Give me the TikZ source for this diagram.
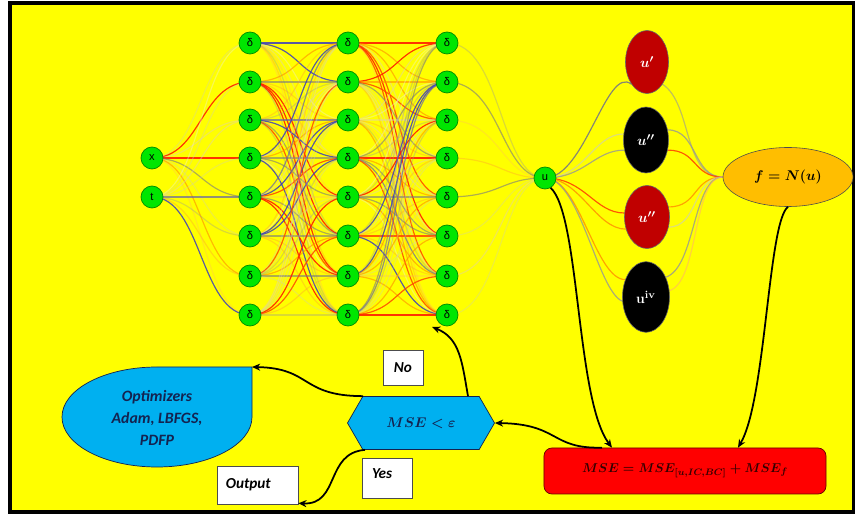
\documentclass[tikz,border=0pt]{standalone}
\usepackage{fontspec}
\usepackage{amsmath}
\newfontfamily\calib{Carlito}
\newfontfamily\arialf{Liberation Sans}
\usetikzlibrary{shapes.geometric,shapes.symbols,arrows.meta}
\definecolor{bgyellow}{RGB}{255,255,0}
\definecolor{nngreen}{RGB}{0,230,0}
\definecolor{nnborder}{RGB}{0,140,0}
\definecolor{optblue}{RGB}{0,176,240}
\definecolor{navy}{RGB}{20,35,80}
\definecolor{fcol}{RGB}{255,190,0}
\definecolor{dred}{RGB}{192,0,0}
\definecolor{mred}{RGB}{255,0,0}
\definecolor{txtred}{RGB}{50,0,0}
\definecolor{ec1}{RGB}{255,30,0}
\definecolor{ec2}{RGB}{255,70,0}
\definecolor{ec3}{RGB}{255,140,0}
\definecolor{ec4}{RGB}{60,60,190}
\definecolor{ec5}{RGB}{100,100,170}
\definecolor{ec6}{RGB}{120,120,130}
\definecolor{ec7}{RGB}{150,150,150}
\definecolor{ec8}{RGB}{255,150,50}
\definecolor{ec9}{RGB}{220,200,200}
\definecolor{ec10}{RGB}{200,200,200}
\definecolor{ec11}{RGB}{255,180,100}
\definecolor{ec12}{RGB}{235,235,235}
\pgfdeclarelayer{back}
\pgfdeclarelayer{edges}
\pgfsetlayers{back,edges,main}
\tikzset{
  nn/.style={circle, fill=nngreen, draw=nnborder, line width=0.6pt, minimum size=0.66cm, inner sep=0pt, font=\arialf\fontsize{9.5}{9.5}\selectfont},
  wire/.style={line width=1pt},
  arr/.style={-{Stealth[length=7pt,width=6pt]}, line width=1.5pt, black},
  lbox/.style={rectangle, fill=white, draw=black!70, line width=0.5pt, font=\calib\bfseries\itshape\fontsize{13}{15}\selectfont},
  dnode/.style={ellipse, draw=black!60, line width=0.5pt, inner sep=0pt, text=white, font=\fontsize{13}{15}\selectfont\boldmath},
}
\newcommand\opof[1]{\pgfmathsetmacro\op{{0.9,0.85,0.6,0.85,0.7,0.6,0.35,0.35,0.4,0.3,0.3,0.35}[#1-1]}}
\begin{document}
\begin{tikzpicture}[x=0.03cm,y=-0.03cm]
\useasboundingbox (0,0) rectangle (855,514);
\begin{pgfonlayer}{back}
\fill[white] (0,0) rectangle (855,514);
\draw[line width=2.6pt, fill=bgyellow] (10,3) rectangle (854,512);
\end{pgfonlayer}

% neurons
\node[nn] (inx) at (152,158) {x};
\node[nn] (int) at (152,197) {t};
\foreach \y [count=\i] in {43,82,120,158,197,236,276,315} {
  \node[nn] (a\i) at (250,\y) {δ};
  \node[nn] (b\i) at (348,\y) {δ};
  \node[nn] (c\i) at (447,\y) {δ};
}
\node[nn] (u) at (545,178) {u};

% derivative nodes
\node[dnode, fill=dred, minimum width=1.29cm, minimum height=1.89cm] (d1) at (647,62) {$u'$};
\node[dnode, fill=black, minimum width=1.35cm, minimum height=1.98cm] (d2) at (646,140) {$u''$};
\node[dnode, fill=dred, minimum width=1.35cm, minimum height=1.89cm] (d3) at (647,217) {$u''$};
\node[dnode, fill=black, minimum width=1.41cm, minimum height=2.12cm] (d4) at (646,297) {$\mathbf{u^{iv}}$};
\node[ellipse, fill=fcol, draw=black!70, line width=0.5pt, minimum width=3.9cm, minimum height=1.77cm, inner sep=0pt, font=\fontsize{13}{15}\selectfont\boldmath] (f) at (788,177) {$f = N(u)$};

% loss box
\node[rectangle, rounded corners=0.24cm, fill=mred, draw=black!60!red, line width=0.6pt, minimum width=8.46cm, minimum height=1.38cm, text=txtred, font=\fontsize{11}{13}\selectfont\boldmath] (mse) at (685,471) {$MSE = MSE_{[u,IC,BC]} + MSE_f$};

% decision
\node[signal, signal to=west and east, signal pointer angle=120, fill=optblue, draw=navy, line width=0.6pt, minimum width=4.41cm, minimum height=1.59cm, inner sep=0pt, text=navy, font=\fontsize{12.5}{14}\selectfont\boldmath] (hex) at (421,423) {$MSE < \varepsilon$};

% optimizers
\draw[fill=optblue, draw=navy, line width=0.6pt] (252,367) -- (252,417) arc[start angle=0, end angle=-270, x radius=2.85cm, y radius=1.5cm] -- cycle;
\node[text=navy, align=center, font=\calib\bfseries\itshape\fontsize{13.5}{19}\selectfont] (opt) at (157,418) {Optimizers\\Adam, LBFGS,\\PDFP};
\coordinate (optc) at (252,367);

% labels
\node[lbox, minimum width=1.2cm, minimum height=1.05cm] (no) at (403,367.5) {No};
\node[lbox, minimum width=1.5cm, minimum height=1.2cm, text width=0.9cm, inner xsep=0.3cm, text depth=0.25cm, align=left] (yes) at (387,478) {Yes};
\node[lbox, minimum width=2.43cm, minimum height=1.14cm, text width=1.9cm, inner xsep=0.25cm, align=left] (out) at (257.5,485) {Output};
\coordinate (notip) at (432,327);

% network wires
\begin{pgfonlayer}{edges}
\foreach \s/\j/\k in {inx/1/10, inx/2/1, inx/3/9, inx/4/1, inx/5/6, inx/6/10, inx/7/3, inx/8/11,
                      int/1/12, int/2/10, int/3/9, int/4/10, int/5/5, int/6/7, int/7/8, int/8/4} {
  \opof{\k}
  \draw[wire, draw=ec\k, draw opacity=\op] (\s.center) .. controls +(50,0) and +(-50,0) .. (a\j.center);
}
\pgfmathsetseed{11}
\foreach \i in {1,...,8}{\foreach \j in {1,...,8}{
  \pgfmathrandominteger{\k}{1}{12}
  \opof{\k}
  \draw[wire, draw=ec\k, draw opacity=\op] (a\i.center) .. controls +(55,0) and +(-55,0) .. (b\j.center);
}}
\foreach \i in {1,...,8}{\foreach \j in {1,...,8}{
  \pgfmathrandominteger{\k}{1}{12}
  \opof{\k}
  \draw[wire, draw=ec\k, draw opacity=\op] (b\i.center) .. controls +(55,0) and +(-55,0) .. (c\j.center);
}}
\foreach \i/\k in {1/7, 2/6, 3/11, 4/8, 5/6, 6/10, 7/9, 8/10} {
  \opof{\k}
  \draw[wire, draw=ec\k, draw opacity=\op] (c\i.center) .. controls +(55,0) and +(-45,0) .. (u.center);
}
% u to derivatives
\draw[wire, draw=ec6, draw opacity=0.9] (u.center) .. controls +(40,0) and +(-25,-20) .. (d1.235);
\draw[wire, draw=ec10, draw opacity=0.6] (u.center) .. controls +(40,0) and +(-30,0) .. (d2.165);
\draw[wire, draw=ec7, draw opacity=0.8] (u.center) .. controls +(40,0) and +(-30,0) .. (d2.205);
\draw[wire, draw=ec2, draw opacity=0.9] (u.center) .. controls +(40,0) and +(-30,0) .. (d3.170);
\draw[wire, draw=ec3, draw opacity=0.8] (u.center) .. controls +(35,0) and +(-30,0) .. (d3.210);
\draw[wire, draw=ec3, draw opacity=0.8] (u.center) .. controls +(35,0) and +(-30,0) .. (d4.140);
\draw[wire, draw=ec7, draw opacity=0.8] (u.center) .. controls +(35,0) and +(-25,-10) .. (d4.190);
% derivatives to f
\draw[wire, draw=ec7, draw opacity=0.6] (d1.305) .. controls +(30,20) and +(-40,0) .. (f.west);
\draw[wire, draw=ec7, draw opacity=0.8] (d2.25) .. controls +(30,0) and +(-30,0) .. (f.west);
\draw[wire, draw=ec2, draw opacity=0.9] (d2.335) .. controls +(30,0) and +(-30,0) .. (f.west);
\draw[wire, draw=ec3, draw opacity=0.8] (d3.25) .. controls +(30,0) and +(-30,0) .. (f.west);
\draw[wire, draw=ec10, draw opacity=0.6] (d3.335) .. controls +(30,0) and +(-30,0) .. (f.west);
\draw[wire, draw=ec7, draw opacity=0.8] (d4.45) .. controls +(30,-10) and +(-30,0) .. (f.west);
\draw[wire, draw=ec11, draw opacity=0.6] (d4.15) .. controls +(30,-10) and +(-30,0) .. (f.west);
\end{pgfonlayer}

% flow arrows
\draw[arr] (u.-60) .. controls (580,215) and (576,400) .. ([xshift=-2.19cm]mse.north);
\draw[arr] (f.south) .. controls (768,222) and (766,400) .. ([xshift=1.59cm]mse.north);
\draw[arr] ([xshift=-2.49cm]mse.north) .. controls (550,449) and (560,424) .. (hex.east);
\draw[arr] ([xshift=1.41cm]hex.north) .. controls (462,362) and (460,338) .. (notip);
\draw[arr] ([xshift=-1.74cm]hex.north) .. controls (300,396) and (312,368) .. (optc);
\draw[arr] ([xshift=-1.68cm]hex.south) .. controls (325,453) and (340,505) .. ([yshift=0.03cm]out.south east);
\end{tikzpicture}
\end{document}
